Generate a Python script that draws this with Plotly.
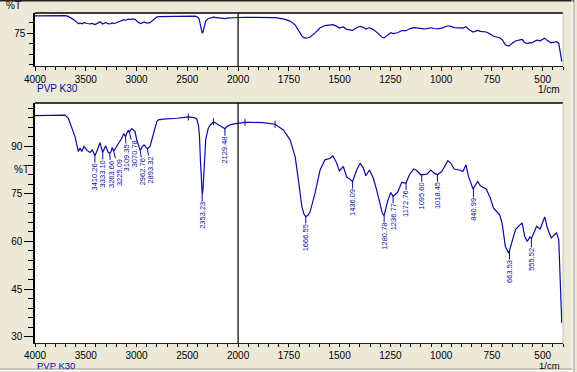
import numpy as np
import plotly.graph_objects as go

# ---------------- data ----------------
wavenumber = [4000, 3900, 3800, 3704, 3672, 3639, 3606, 3573, 3557, 3540, 3517, 3485, 3458, 3435,
              3410, 3386, 3360, 3333, 3304, 3278, 3263, 3251, 3240, 3225, 3205, 3179, 3146, 3125,
              3109, 3090, 3080, 3071, 3050, 3038, 3015, 2998, 2980, 2962, 2945, 2926, 2910, 2893,
              2867, 2835, 2801, 2785, 2736, 2600, 2490, 2430, 2407, 2390, 2381, 2370, 2360, 2353,
              2345, 2335, 2319, 2295, 2276, 2243, 2210, 2175, 2150, 2129, 2110, 2079, 2040, 2000,
              1966, 1941, 1876, 1818, 1777, 1744, 1719, 1703, 1686, 1675, 1666, 1655, 1645, 1621,
              1596, 1572, 1547, 1534, 1518, 1501, 1490, 1482, 1465, 1450, 1436, 1416, 1399, 1383,
              1371, 1353, 1334, 1318, 1301, 1290, 1281, 1264, 1248, 1237, 1215, 1194, 1173, 1156,
              1136, 1123, 1100, 1085, 1070, 1051, 1034, 1018, 997, 967, 952, 936, 910, 893, 878,
              865, 843, 820, 807, 778, 758, 742, 712, 700, 684, 667, 650, 634, 612, 601, 589, 576,
              563, 555, 530, 513, 490, 477, 458, 432, 421, 414, 406]
transmittance = [99.6, 99.7, 99.8, 99.8, 98.8, 96.2, 93.0, 88.3, 89.4, 88.3, 89.9, 88.6, 88.0, 88.8,
                 87.0, 88.8, 91.1, 88.0, 90.1, 88.0, 87.8, 88.3, 89.6, 88.4, 89.4, 90.9, 92.5, 94.0,
                 93.0, 94.5, 95.0, 94.3, 95.5, 95.3, 94.6, 92.0, 90.0, 88.6, 89.8, 90.4, 89.8, 89.2,
                 89.9, 94.1, 97.7, 98.3, 98.5, 98.8, 99.2, 99.0, 98.6, 96.5, 93.6, 85.0, 76.0, 74.7,
                 76.5, 84.0, 92.0, 95.5, 96.6, 97.7, 97.0, 96.3, 95.9, 95.5, 96.2, 96.7, 97.0, 97.2,
                 97.5, 97.5, 97.4, 96.9, 95.1, 92.0, 86.7, 79.4, 71.0, 68.5, 67.8, 68.3, 69.4, 75.2,
                 82.5, 85.7, 86.2, 87.0, 85.2, 82.2, 83.0, 83.6, 80.3, 79.5, 78.9, 82.5, 84.6, 83.1,
                 80.7, 82.5, 79.9, 76.3, 71.5, 69.0, 68.1, 72.6, 75.4, 74.2, 75.4, 78.6, 78.4, 81.0,
                 82.8, 82.5, 81.0, 81.0, 81.2, 82.5, 81.5, 81.0, 82.0, 85.4, 84.6, 82.8, 82.5, 82.0, 84.1,
                 80.4, 76.5, 78.9, 77.5, 76.5, 73.7, 70.5, 68.4, 65.8, 58.4, 56.3, 60.5, 63.7, 65.2, 65.8, 61.6, 60.0,
                 61.4, 60.9, 64.8, 63.9, 67.7, 64.2, 61.1, 62.7, 60.5, 47.0, 34.3]

peak_wavenumbers = [3410.26, 3333.10, 3263.66, 3225.09, 3109.35, 3070.78, 2962.76, 2893.32,
                    2353.23, 2129.48, 1666.55, 1436.09, 1280.78, 1236.77, 1172.76, 1095.60,
                    1018.45, 840.99, 663.53, 555.52]
peak_labels = ["3410.26", "3333.10", "3263.66", "3225.09", "3109.35", "3070.78", "2962.76", "2893.32",
               "2353.23", "2129.48", "1666.55", "1436.09", "1280.78", "1236.77", "1172.76", "1095.60",
               "1018.45", "840.99", "663.53", "555.52"]
baseline_marks = [2490, 2243, 1966, 1818]

x_tick_values = [4000, 3500, 3000, 2500, 2000, 1750, 1500, 1250, 1000, 750, 500]
x_tick_labels = ["4000", "3500", "3000", "2500", "2000", "1750", "1500", "1250", "1000", "750", "500"]
y_tick_values = [30, 45, 60, 75, 90]
top_y_labelled = [75]
cursor_wavenumber = 2000
sample_name = "PVP K30"
x_unit = "1/cm"
y_unit = "%T"

# ---------------- helpers ----------------
def to_u(w):
    w = np.asarray(w, dtype=float)
    return np.where(w >= 2000, (4000.0 - w) / 2.0, 1000.0 + (2000.0 - w))

U_MAX = float(to_u(400))
u_data = to_u(wavenumber)
t_data = np.asarray(transmittance, dtype=float)

BLUE = "#0A0AA0"
BG = "#ECE9D8"
FONT = "Liberation Sans"

W, H = 577, 372
ML, MR, MT, MB = 35, 14, 13, 29
PW = W - ML - MR
PH = H - MT - MB

def py(ypix):
    return (H - MB - ypix) / PH

def px(xpix):
    return (xpix - ML) / PW

top_dom = [py(66), 1.0]
bot_dom = [0.0, py(103)]
Y_RANGE = [28, 103.6]

fig = go.Figure()

for xa, ya in (("x", "y"), ("x2", "y2")):
    fig.add_trace(go.Scatter(x=u_data, y=t_data, mode="lines", xaxis=xa, yaxis=ya,
                             line=dict(color=BLUE, width=1.2), hoverinfo="skip"))

bm_u = to_u(baseline_marks)
fig.add_trace(go.Scatter(x=bm_u, y=np.interp(bm_u, u_data, t_data), mode="markers",
                         xaxis="x2", yaxis="y2",
                         marker=dict(symbol="line-ns", size=5, line=dict(color=BLUE, width=1)),
                         hoverinfo="skip"))

minor_u = list(np.arange(0, U_MAX + 1, 50))


def xaxis_cfg(anchor, ticklen):
    return dict(anchor=anchor, domain=[0, 1], range=[0, U_MAX], tickmode="array",
                tickvals=list(to_u(x_tick_values)), ticktext=x_tick_labels, ticks="outside",
                ticklen=ticklen, tickcolor="black", showgrid=False, zeroline=False, showline=True,
                linecolor="#202020", linewidth=1, tickfont=dict(family=FONT, size=10, color="black"),
                minor=dict(tickmode="array", tickvals=minor_u, ticks="outside", ticklen=3,
                           tickcolor="black", showgrid=False))


fig.update_layout(
    width=W, height=H, margin=dict(l=ML, r=MR, t=MT, b=MB, pad=0),
    paper_bgcolor=BG, plot_bgcolor="white", showlegend=False,
    font=dict(family=FONT, size=10, color="black"),
    xaxis=xaxis_cfg("y", 4),
    xaxis2=xaxis_cfg("y2", 3),
    yaxis=dict(anchor="x", domain=top_dom, range=Y_RANGE, tickmode="array",
               tickvals=top_y_labelled, ticks="outside", ticklen=6, tickcolor="black",
               showgrid=False, zeroline=False, showline=True, linecolor="black", linewidth=1.5,
               tickfont=dict(family=FONT, size=10, color="black"),
               minor=dict(tickmode="array", tickvals=[v for v in y_tick_values if v not in top_y_labelled],
                          ticks="outside", ticklen=4, tickcolor="black", showgrid=False)),
    yaxis2=dict(anchor="x2", domain=bot_dom, range=Y_RANGE, tickmode="array",
                tickvals=y_tick_values, ticks="outside", ticklen=9, tickcolor="black",
                showgrid=False, zeroline=False, showline=True, linecolor="black", linewidth=1.5,
                tickfont=dict(family=FONT, size=10, color="black"),
                minor=dict(tickmode="linear", tick0=0, dtick=3, ticks="outside", ticklen=5,
                           tickcolor="black", showgrid=False)),
)

shapes = []
for dom in (top_dom, bot_dom):
    shapes.append(dict(type="line", xref="paper", yref="paper", x0=0, x1=1, y0=dom[1], y1=dom[1],
                       line=dict(color="black", width=1.5)))
    shapes.append(dict(type="line", xref="paper", yref="paper", x0=1, x1=1, y0=dom[0], y1=dom[1],
                       line=dict(color="#C8C4B8", width=1)))
for xa, ya in (("x", "y"), ("x2", "y2")):
    cu = float(to_u(cursor_wavenumber))
    shapes.append(dict(type="line", xref=xa, yref=ya + " domain", x0=cu, x1=cu, y0=0, y1=1,
                       line=dict(color="black", width=1.2)))
# window chrome
shapes.append(dict(type="line", xref="paper", yref="paper", x0=px(0), x1=px(574), y0=py(0.7), y1=py(0.7),
                   line=dict(color="#202020", width=1.5)))
shapes.append(dict(type="line", xref="paper", yref="paper", x0=px(572), x1=px(572), y0=py(372), y1=py(0),
                   line=dict(color="white", width=1)))
shapes.append(dict(type="line", xref="paper", yref="paper", x0=px(574), x1=px(574), y0=py(372), y1=py(0),
                   line=dict(color="#A0A0A0", width=1)))
shapes.append(dict(type="line", xref="paper", yref="paper", x0=px(0), x1=px(572), y0=py(369), y1=py(369),
                   line=dict(color="#A0A0A0", width=1)))
shapes.append(dict(type="line", xref="paper", yref="paper", x0=px(0), x1=px(572), y0=py(370.5), y1=py(370.5),
                   line=dict(color="white", width=1)))
fig.update_layout(shapes=shapes)

ann = []
# peak labels with simple de-overlap
pk_u = to_u(peak_wavenumbers)
pk_t = np.interp(pk_u, u_data, t_data)
pk_px = pk_u / U_MAX * PW
order = np.argsort(pk_px)
new_px = pk_px.copy()
prev = -1e9
for i in order:
    if new_px[i] < prev + 8:
        new_px[i] = prev + 8
    prev = new_px[i]
for i in range(len(peak_labels)):
    ann.append(dict(x=float(pk_u[i]), y=float(pk_t[i]), xref="x2", yref="y2", text=peak_labels[i],
                    textangle=-90, showarrow=True, arrowhead=0, arrowwidth=1, arrowcolor=BLUE,
                    ax=float(new_px[i] - pk_px[i]), ay=21, standoff=0, borderpad=0,
                    font=dict(family=FONT, size=7.5, color=BLUE)))

for ycen, fs in ((88.5, 10), (365.5, 9.5)):
    ann.append(dict(x=0, y=py(ycen), xref="paper", yref="paper", text=sample_name, showarrow=False,
                    xanchor="left", yanchor="middle", font=dict(family=FONT, size=fs, color=BLUE)))
for ycen, fs in ((89.5, 10), (365.5, 9.5)):
    ann.append(dict(x=px(562), y=py(ycen), xref="paper", yref="paper", text=x_unit, showarrow=False,
                    xanchor="right", yanchor="middle", font=dict(family=FONT, size=fs, color="black")))
ann.append(dict(x=px(4), y=py(6), xref="paper", yref="paper", text=y_unit, showarrow=False,
                xanchor="left", yanchor="middle", font=dict(family=FONT, size=10, color="black")))
ann.append(dict(x=px(12), y=py(170), xref="paper", yref="paper", text=y_unit, showarrow=False,
                xanchor="left", yanchor="middle", font=dict(family=FONT, size=10, color="black")))
fig.update_layout(annotations=ann)

fig.write_html("out.html", config={"displayModeBar": False},
               post_script="document.body.style.margin='0';document.body.style.padding='0';"
                           "document.body.style.background='" + BG + "';")
